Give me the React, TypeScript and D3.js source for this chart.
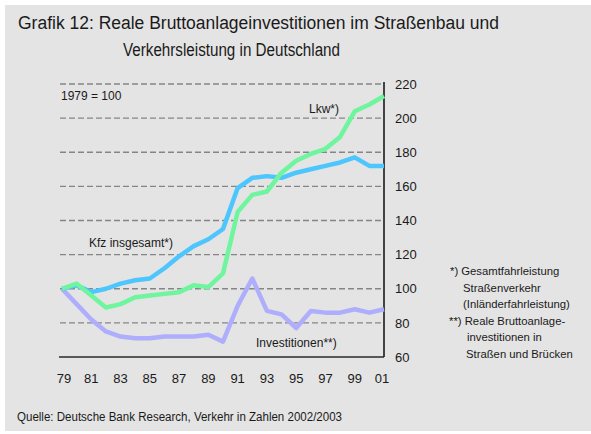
import * as d3 from "d3"

// years and series (1979 = 100)
const years = [1979, 1980, 1981, 1982, 1983, 1984, 1985, 1986, 1987, 1988, 1989, 1990, 1991, 1992, 1993, 1994, 1995, 1996, 1997, 1998, 1999, 2000, 2001]
const kfz = [100, 102, 98, 100, 103, 105, 106, 112, 119, 125, 129, 135, 159, 165, 166, 165, 168, 170, 172, 174, 177, 172, 172]
const lkw = [100, 103, 96, 89, 91, 95, 96, 97, 98, 102, 101, 109, 145, 155, 157, 168, 175, 179, 182, 189, 204, 208, 213]
const investitionen = [100, 91, 82, 75, 72, 71, 71, 72, 72, 72, 73, 69, 90, 106, 87, 85, 77, 87, 86, 86, 88, 86, 88]

const xTickYears = [1979, 1981, 1983, 1985, 1987, 1989, 1991, 1993, 1995, 1997, 1999, 2001]
const xTickLabels = ["79", "81", "83", "85", "87", "89", "91", "93", "95", "97", "99", "01"]
const yTicks = [60, 80, 100, 120, 140, 160, 180, 200, 220]

const notes = [
  "*) Gesamtfahrleistung",
  "Straßenverkehr",
  "(Inländerfahrleistung)",
  "**) Reale Bruttoanlage-",
  "investitionen in",
  "Straßen und Brücken",
]

const font = "'Liberation Sans', Arial, sans-serif"

export default function App() {
  const left = 62
  const right = 384
  const top = 84
  const bottom = 357

  const x = d3.scaleLinear().domain([1979, 2001]).range([left, right])
  const y = d3.scaleLinear().domain([60, 220]).range([bottom, top])

  const line = d3
    .line<number>()
    .x((_, i) => x(years[i]))
    .y((d) => y(d))

  const series = [
    { values: investitionen, color: "#aeaefc" },
    { values: kfz, color: "#4cc6fd" },
    { values: lkw, color: "#6ef59e" },
  ]

  const noteX = [450, 463, 463, 449, 467, 466]

  return (
    <svg width={591} height={434} style={{ position: "absolute", left: 0, top: 0 }} fontFamily={font}>
      <rect x={0} y={0} width={591} height={434} fill="#ffffff" />
      <rect x={5} y={5} width={586} height={426} fill="#e4e4e4" />

      {/* title */}
      <text x={18} y={29} fontSize={18} fill="#1a1a1a" textLength={481} lengthAdjust="spacingAndGlyphs">
        Grafik 12: Reale Bruttoanlageinvestitionen im Straßenbau und
      </text>
      <text x={123} y={56} fontSize={18} fill="#1a1a1a" textLength={217} lengthAdjust="spacingAndGlyphs">
        Verkehrsleistung in Deutschland
      </text>

      {/* grid */}
      {yTicks
        .filter((t) => t > 60)
        .map((t) => (
          <line key={t} x1={60} x2={right} y1={y(t)} y2={y(t)} stroke="#858585" strokeWidth={1.3} strokeDasharray="6,3" />
        ))}

      {/* axes */}
      <line x1={59} x2={right} y1={bottom} y2={bottom} stroke="#2a2a2a" strokeWidth={1.6} />
      <line x1={right} x2={right} y1={top - 2} y2={bottom} stroke="#1a1a1a" strokeWidth={1.6} />

      {yTicks.map((t) => (
        <text key={t} x={395} y={y(t)} dy="0.36em" fontSize={13} fill="#1a1a1a">
          {t}
        </text>
      ))}
      {xTickYears.map((yr, i) => (
        <text key={yr} x={x(yr) + (i === 0 ? 2 : i === xTickYears.length - 1 ? -2 : 0)} y={383} textAnchor="middle" fontSize={13} fill="#1a1a1a">
          {xTickLabels[i]}
        </text>
      ))}

      {/* lines */}
      {series.map((s, i) => (
        <path key={i} d={line(s.values) ?? ""} fill="none" stroke={s.color} strokeWidth={4.5} strokeLinejoin="round" />
      ))}

      {/* labels */}
      <text x={61} y={100} fontSize={12} fill="#1a1a1a">1979 = 100</text>
      <text x={309} y={113} fontSize={12} fill="#1a1a1a">Lkw*)</text>
      <text x={89} y={247} fontSize={12} fill="#1a1a1a">Kfz insgesamt*)</text>
      <text x={256} y={347} fontSize={12} fill="#1a1a1a">Investitionen**)</text>

      {notes.map((n, i) => (
        <text key={i} x={noteX[i]} y={275 + i * 16.6} fontSize={11.3} fill="#1a1a1a">
          {n}
        </text>
      ))}

      <text x={17} y={421} fontSize={12} fill="#1a1a1a" textLength={325} lengthAdjust="spacingAndGlyphs">
        Quelle: Deutsche Bank Research, Verkehr in Zahlen 2002/2003
      </text>
    </svg>
  )
}
